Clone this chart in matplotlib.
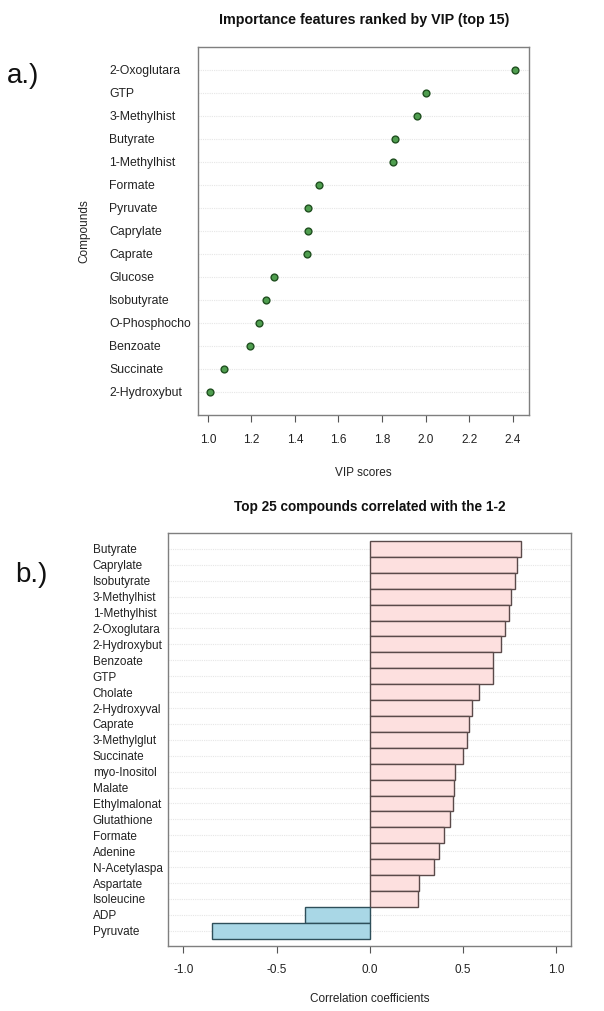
import matplotlib
matplotlib.use("Agg")
import matplotlib.pyplot as plt
import numpy as np

plt.rcParams['font.family'] = ['Liberation Sans', 'DejaVu Sans']

# ---- Panel a data (top to bottom) ----
vip_compounds = ["2-Oxoglutara", "GTP", "3-Methylhist", "Butyrate", "1-Methylhist",
                 "Formate", "Pyruvate", "Caprylate", "Caprate", "Glucose",
                 "Isobutyrate", "O-Phosphocho", "Benzoate", "Succinate", "2-Hydroxybut"]
vip_scores = [2.41, 2.00, 1.96, 1.86, 1.85, 1.51, 1.46, 1.46, 1.455, 1.305,
              1.265, 1.237, 1.194, 1.073, 1.012]
vip_ticks = [1.0, 1.2, 1.4, 1.6, 1.8, 2.0, 2.2, 2.4]

# ---- Panel b data (top to bottom) ----
corr_compounds = ["Butyrate", "Caprylate", "Isobutyrate", "3-Methylhist", "1-Methylhist",
                  "2-Oxoglutara", "2-Hydroxybut", "Benzoate", "GTP", "Cholate",
                  "2-Hydroxyval", "Caprate", "3-Methylglut", "Succinate", "myo-Inositol",
                  "Malate", "Ethylmalonat", "Glutathione", "Formate", "Adenine",
                  "N-Acetylaspa", "Aspartate", "Isoleucine", "ADP", "Pyruvate"]
corr_values = [0.812, 0.792, 0.780, 0.757, 0.750, 0.728, 0.703, 0.664, 0.660, 0.588,
               0.547, 0.535, 0.521, 0.503, 0.458, 0.453, 0.445, 0.431, 0.401, 0.374,
               0.345, 0.263, 0.261, -0.347, -0.848]
corr_ticks = [-1.0, -0.5, 0.0, 0.5, 1.0]

W, H = 604, 1011
fig = plt.figure(figsize=(W / 100, H / 100), dpi=100)

frame_col = "#7f7f7f"
grid_col = "#e6e6e6"
txt_col = "#222222"

def style_axes(ax):
    for s in ax.spines.values():
        s.set_color(frame_col)
        s.set_linewidth(1.0)
    ax.tick_params(axis='y', length=0)
    ax.tick_params(axis='x', length=5, width=0.8, color="#555555", direction='out')

# ---------- Panel a ----------
axa = fig.add_axes([198 / W, 1 - 415 / H, 331 / W, 368 / H])
n = len(vip_compounds)
ya = np.arange(n, 0, -1)
for y in ya:
    axa.axhline(y, color=grid_col, lw=0.8, ls=(0, (1, 1)), zorder=0)
axa.scatter(vip_scores, ya, s=24, facecolor="#4f9e4f", edgecolor="#1f4f1f",
            linewidths=1.0, zorder=3)
axa.set_ylim(0, n + 1)
axa.set_xlim(0.955, 2.475)
axa.set_xticks(vip_ticks)
axa.set_xticklabels([f"{t:.1f}" for t in vip_ticks], fontsize=8.5, color=txt_col)
axa.set_yticks(ya)
axa.set_yticklabels(vip_compounds, fontsize=8.8, color=txt_col, ha='left')
style_axes(axa)
axa.tick_params(axis='y', pad=64)
axa.tick_params(axis='x', pad=9)
axa.set_xlabel("VIP scores", fontsize=8.5, color=txt_col, labelpad=15)
axa.set_ylabel("Compounds", fontsize=8.5, color=txt_col)
axa.yaxis.set_label_coords((90 - 198) / 331, 0.5)
fig.text(364 / W, 1 - 20 / H, "Importance features ranked by VIP (top 15)",
         ha='center', va='center', fontsize=10.3, fontweight='bold', color="#111111")
fig.text(7 / W, 1 - 76 / H, "a.)", ha='left', va='center', fontsize=20, color="#111111")

# ---------- Panel b ----------
axb = fig.add_axes([167.7 / W, 1 - 946 / H, 403.3 / W, 413.3 / H])
m = len(corr_compounds)
yb = np.arange(m - 1, -1, -1)
for y in yb:
    axb.axhline(y, color=grid_col, lw=0.8, ls=(0, (1, 1)), zorder=0)
cols = ["#fde0df" if v >= 0 else "#a9d7e6" for v in corr_values]
ecols = ["#5a4a4a" if v >= 0 else "#2e4f5a" for v in corr_values]
axb.barh(yb, corr_values, height=1.0, color=cols, edgecolor=ecols, linewidth=1.0, zorder=2)
axb.set_ylim(-0.96, m + 0.02)
axb.set_xlim(-1.084, 1.08)
axb.set_xticks(corr_ticks)
axb.set_xticklabels([f"{t:.1f}" for t in corr_ticks], fontsize=8.5, color=txt_col)
axb.set_yticks(yb)
axb.set_yticklabels(corr_compounds, fontsize=8.5, color=txt_col, ha='left')
style_axes(axb)
axb.tick_params(axis='y', pad=54)
axb.tick_params(axis='x', pad=8)
axb.set_xlabel("Correlation coefficients", fontsize=8.5, color=txt_col, labelpad=12)
fig.text(370 / W, 1 - 507 / H, "Top 25 compounds correlated with the 1-2",
         ha='center', va='center', fontsize=9.8, fontweight='bold', color="#111111")
fig.text(15 / W, 1 - 575 / H, "b.)", ha='left', va='center', fontsize=20, color="#111111")

fig.savefig("out.png", dpi=100)
